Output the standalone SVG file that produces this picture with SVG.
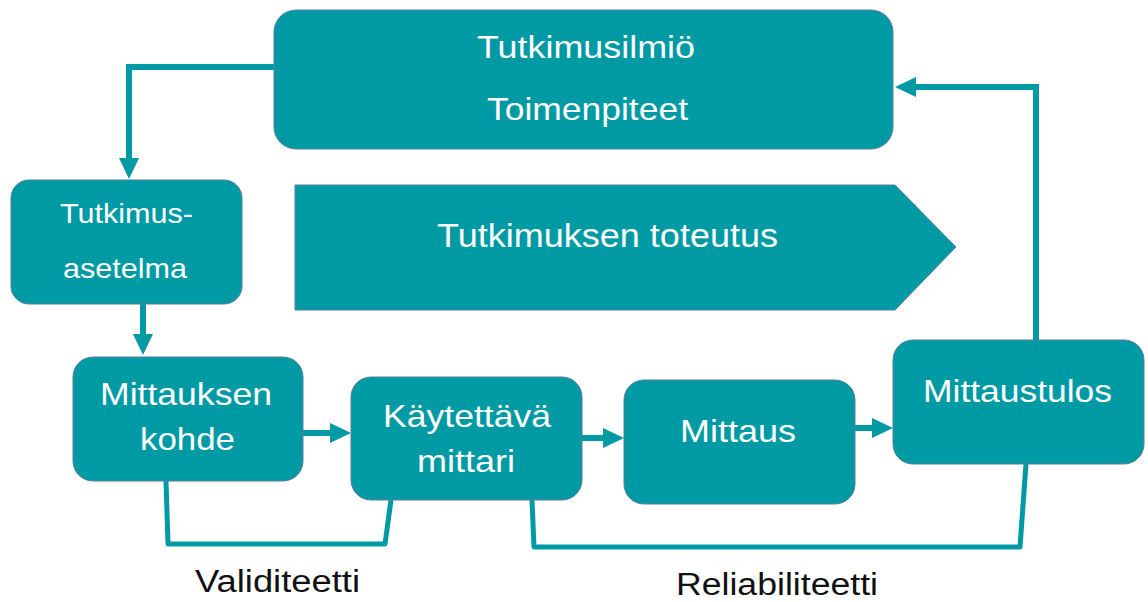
<svg xmlns="http://www.w3.org/2000/svg" width="1148" height="602" viewBox="0 0 1148 602">
  <defs>
    <marker id="ah" markerUnits="userSpaceOnUse" markerWidth="21" markerHeight="20" refX="0" refY="10" orient="auto" viewBox="0 0 21 20">
      <path d="M0,0 L21,10 L0,20 Z" fill="#009AA5"/>
    </marker>
  </defs>
  <style>
    .box { fill: #009AA5; stroke: #5A7D9E; stroke-width: 1; }
    .t { font-family: "Liberation Sans", Arial, sans-serif; fill: #FFFFFF; text-anchor: middle; }
    .lbl { font-family: "Liberation Sans", Arial, sans-serif; fill: #111111; text-anchor: middle; font-size: 31px; }
    .c { fill: none; stroke: #009AA5; stroke-width: 6; }
    .b { fill: none; stroke: #009AA5; stroke-width: 5; stroke-linejoin: round; }
  </style>
  <rect width="1148" height="602" fill="#FFFFFF"/>

  <g id="connectors">
    <path class="c" d="M274,67 H129 V158" marker-end="url(#ah)"/>
    <path class="c" d="M143,304 V334" marker-end="url(#ah)"/>
    <path class="c" d="M303,433 H330" marker-end="url(#ah)"/>
    <path class="c" d="M582,438 H603" marker-end="url(#ah)"/>
    <path class="c" d="M855,428 H872" marker-end="url(#ah)"/>
    <path class="c" d="M1036,340 V87 H916" marker-end="url(#ah)"/>
    <path class="b" d="M166,481 L168,544 L385,544 L391,500"/>
    <path class="b" d="M532,500 L534,547 L1020,547 L1026,464"/>
  </g>

  <g id="tutkimusilmio">
    <rect class="box" x="274" y="10" width="619" height="139" rx="22"/>
    <text class="t" x="586" y="58" font-size="32" textLength="218" lengthAdjust="spacingAndGlyphs">Tutkimusilmiö</text>
    <text class="t" x="587.5" y="120" font-size="32" textLength="201" lengthAdjust="spacingAndGlyphs">Toimenpiteet</text>
  </g>

  <g id="toteutus">
    <path class="box" d="M295,185 H895 L956,247 L895,310 H295 Z"/>
    <text class="t" x="607.5" y="247" font-size="33" textLength="341" lengthAdjust="spacingAndGlyphs">Tutkimuksen toteutus</text>
  </g>

  <g id="asetelma">
    <rect class="box" x="11" y="180" width="231" height="124" rx="18"/>
    <text class="t" x="126.5" y="223" font-size="28" textLength="133" lengthAdjust="spacingAndGlyphs">Tutkimus-</text>
    <text class="t" x="125" y="278" font-size="28" textLength="124" lengthAdjust="spacingAndGlyphs">asetelma</text>
  </g>

  <g id="kohde">
    <rect class="box" x="73" y="357" width="230" height="124" rx="20"/>
    <text class="t" x="186" y="405" font-size="32" textLength="172" lengthAdjust="spacingAndGlyphs">Mittauksen</text>
    <text class="t" x="187.5" y="450" font-size="32" textLength="95" lengthAdjust="spacingAndGlyphs">kohde</text>
  </g>

  <g id="mittari">
    <rect class="box" x="351" y="377" width="231" height="123" rx="20"/>
    <text class="t" x="467" y="427" font-size="32" textLength="168" lengthAdjust="spacingAndGlyphs">Käytettävä</text>
    <text class="t" x="466" y="472" font-size="32" textLength="98" lengthAdjust="spacingAndGlyphs">mittari</text>
  </g>

  <g id="mittaus">
    <rect class="box" x="624" y="380" width="231" height="124" rx="20"/>
    <text class="t" x="738" y="442" font-size="32" textLength="116" lengthAdjust="spacingAndGlyphs">Mittaus</text>
  </g>

  <g id="mittaustulos">
    <rect class="box" x="893" y="340" width="251" height="124" rx="20"/>
    <text class="t" x="1017.5" y="402" font-size="32" textLength="189" lengthAdjust="spacingAndGlyphs">Mittaustulos</text>
  </g>

  <g id="labels">
    <text class="lbl" x="277.5" y="592" textLength="165" lengthAdjust="spacingAndGlyphs">Validiteetti</text>
    <text class="lbl" x="777" y="595" textLength="202" lengthAdjust="spacingAndGlyphs">Reliabiliteetti</text>
  </g>
</svg>
